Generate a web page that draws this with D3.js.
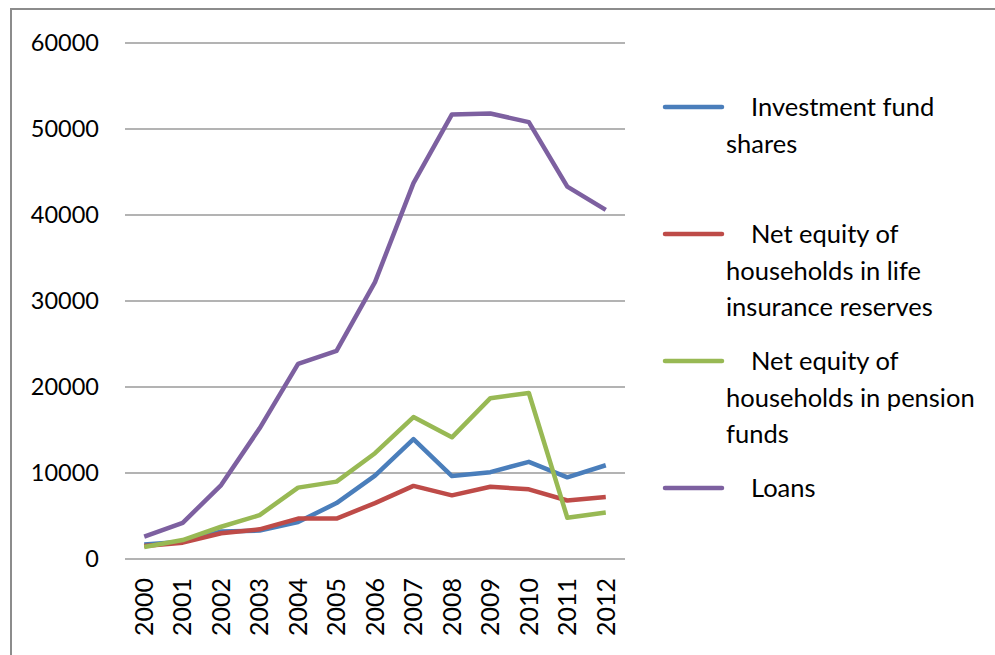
<!DOCTYPE html>
<html>
<head>
<meta charset="utf-8">
<script src="https://cdn.jsdelivr.net/npm/d3@7"></script>
<style>
  html, body { margin: 0; padding: 0; background: #fff; }
  svg { display: block; }
  text { font-family: Lato, "Open Sans", sans-serif; fill: #000; }
</style>
</head>
<body>
<svg id="chart" width="995" height="655"></svg>
<script>
const years = ["2000","2001","2002","2003","2004","2005","2006","2007","2008","2009","2010","2011","2012"];
const investmentFundShares = [1700, 2000, 3200, 3300, 4300, 6500, 9700, 13950, 9650, 10100, 11300, 9500, 10900];
const lifeInsurance = [1500, 1900, 3000, 3450, 4700, 4700, 6500, 8500, 7400, 8400, 8100, 6800, 7200];
const pensionFunds = [1400, 2200, 3750, 5100, 8300, 9000, 12300, 16500, 14150, 18700, 19300, 4800, 5400];
const loans = [2600, 4200, 8600, 15200, 22700, 24200, 32200, 43700, 51700, 51800, 50800, 43300, 40600];
const yTicks = [0, 10000, 20000, 30000, 40000, 50000, 60000];
const seriesNames = [
  ["Investment fund", "shares"],
  ["Net equity of", "households in life", "insurance reserves"],
  ["Net equity of", "households in pension", "funds"],
  ["Loans"]
];
const seriesColors = ["#4A7EBB", "#BE4B48", "#98B954", "#7D60A0"];
const seriesData = [investmentFundShares, lifeInsurance, pensionFunds, loans];

const svg = d3.select("#chart");

// outer frame (left and top edges visible)
svg.append("path")
  .attr("d", "M11,655 L11,9 L995,9")
  .attr("fill", "none").attr("stroke", "#8c8c8c").attr("stroke-width", 2);

const plot = { left: 125, right: 625, top: 43, bottom: 559 };
const x = d3.scaleBand().domain(years).range([plot.left, plot.right]);
const y = d3.scaleLinear().domain([0, 60000]).range([plot.bottom, plot.top]);

// gridlines
svg.append("g").selectAll("line").data(yTicks).join("line")
  .attr("x1", plot.left).attr("x2", plot.right)
  .attr("y1", d => y(d)).attr("y2", d => y(d))
  .attr("stroke", "#9a9a9a").attr("stroke-width", 1.5);

// y axis labels
const yAxis = svg.append("g").attr("transform", `translate(${plot.left},0)`)
  .call(d3.axisLeft(y).tickValues(yTicks).tickSize(0).tickPadding(26).tickFormat(d3.format("d")));
yAxis.select(".domain").remove();
yAxis.selectAll("text").style("font-size", "23.5px").style("font-family", "Lato, sans-serif").attr("fill", "#000");

// x axis labels
const xAxis = svg.append("g").attr("transform", `translate(0,${plot.bottom})`)
  .call(d3.axisBottom(x).tickSize(0).tickPadding(0));
xAxis.select(".domain").remove();
xAxis.selectAll("text")
  .style("font-size", "25px").style("font-family", "Lato, sans-serif").attr("fill", "#000")
  .attr("transform", "rotate(-90)")
  .attr("text-anchor", "end")
  .attr("x", -19).attr("y", 0).attr("dy", "0.35em");

// lines
const line = d3.line()
  .x((d, i) => x(years[i]) + x.bandwidth() / 2)
  .y(d => y(d));
svg.append("g").selectAll("path").data(seriesData).join("path")
  .attr("d", d => line(d))
  .attr("fill", "none")
  .attr("stroke", (d, i) => seriesColors[i])
  .attr("stroke-width", 4.5)
  .attr("stroke-linejoin", "round");

// legend
const legendY = [107, 234, 361, 488];
const lg = svg.append("g");
seriesNames.forEach((lines, i) => {
  lg.append("line")
    .attr("x1", 665).attr("x2", 722)
    .attr("y1", legendY[i]).attr("y2", legendY[i])
    .attr("stroke", seriesColors[i]).attr("stroke-width", 4.5).attr("stroke-linecap", "round");
  const t = lg.append("text").style("font-size", "25.5px");
  lines.forEach((s, j) => {
    t.append("tspan")
      .attr("x", j === 0 ? 751 : 726)
      .attr("y", legendY[i] + 9 + j * 36.5)
      .text(s);
  });
});
</script>
</body>
</html>
